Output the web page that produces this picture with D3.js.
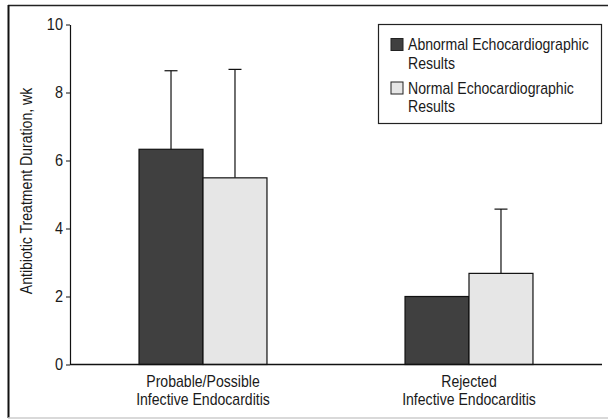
<!DOCTYPE html>
<html><head><meta charset="utf-8">
<script src="https://cdn.jsdelivr.net/npm/d3@7"></script>
<style>
body{margin:0;background:#fff;}
text{font-family:"Liberation Sans",Arial,sans-serif;fill:#1a1a1a;}
</style></head>
<body>
<svg id="c" width="608" height="419"></svg>
<script>
const categories = ["Probable/Possible\nInfective Endocarditis", "Rejected\nInfective Endocarditis"];
const seriesNames = ["Abnormal Echocardiographic\nResults", "Normal Echocardiographic\nResults"];
const abnormalMean = [6.33, 2.0];
const abnormalUpper = [8.64, null];
const normalMean = [5.49, 2.68];
const normalUpper = [8.68, 4.57];
const yTicks = [0, 2, 4, 6, 8, 10];
const yTitle = "Antibiotic Treatment Duration, wk";
const colors = ["#404040", "#e6e6e6"];

const SX = 0.88; // horizontal condensing to mimic a narrow Helvetica
const svg = d3.select("#c");
const M = {left: 70, right: 602, top: 24.5, bottom: 364.5};

// frame
svg.append("line").attr("x1",8).attr("x2",608).attr("y1",5.5).attr("y2",5.5).attr("stroke","#222").attr("stroke-width",1.5);
svg.append("line").attr("x1",8.5).attr("x2",8.5).attr("y1",5).attr("y2",418).attr("stroke","#111").attr("stroke-width",2);
svg.append("line").attr("x1",8).attr("x2",608).attr("y1",418).attr("y2",418).attr("stroke","#ccc").attr("stroke-width",1.5);

const y = d3.scaleLinear().domain([0,10]).range([M.bottom, M.top]);
const x0 = d3.scaleBand().domain(d3.range(categories.length)).range([M.left, M.right]).paddingInner(0.519).paddingOuter(0.2595);
const x1 = d3.scaleBand().domain([0,1]).range([0, x0.bandwidth()]);

const data = categories.map((c,i)=>[
  {s:0, v:abnormalMean[i], u:abnormalUpper[i]},
  {s:1, v:normalMean[i], u:normalUpper[i]}
]);

const g = svg.selectAll("g.grp").data(data).join("g").attr("class","grp")
  .attr("transform",(d,i)=>`translate(${x0(i)},0)`);

// error bars
g.selectAll("g.err").data(d=>d.filter(e=>e.u!=null)).join("g").attr("class","err").each(function(d){
  const cx = x1(d.s)+x1.bandwidth()/2;
  const s = d3.select(this);
  s.append("line").attr("x1",cx).attr("x2",cx).attr("y1",y(d.v)).attr("y2",y(d.u)).attr("stroke","#111").attr("stroke-width",1.2);
  s.append("line").attr("x1",cx-6.5).attr("x2",cx+6.5).attr("y1",y(d.u)).attr("y2",y(d.u)).attr("stroke","#111").attr("stroke-width",1.2);
});

g.selectAll("rect").data(d=>d).join("rect")
  .attr("x",d=>x1(d.s)).attr("width",x1.bandwidth())
  .attr("y",d=>y(d.v)).attr("height",d=>y(0)-y(d.v))
  .attr("fill",d=>colors[d.s]).attr("stroke","#111").attr("stroke-width",1.2);

// y axis
const ya = svg.append("g").attr("transform",`translate(${M.left},0)`)
  .call(d3.axisLeft(y).tickValues(yTicks).tickSize(4).tickPadding(3).tickSizeOuter(0));
ya.select(".domain").attr("stroke","#111").attr("stroke-width",1.2);
ya.selectAll(".tick line").attr("stroke","#111");
ya.selectAll(".tick text").each(function(){
  const t = d3.select(this);
  t.attr("x",null).attr("transform",`translate(-7,0) scale(${SX},1)`);
}).style("font-size","16.5px").style("font-family","'Liberation Sans',Arial,sans-serif").attr("fill","#1a1a1a");

// x axis baseline
svg.append("line").attr("x1",M.left).attr("x2",M.right).attr("y1",y(0)).attr("y2",y(0)).attr("stroke","#111").attr("stroke-width",1.5);

// x labels
categories.forEach((c,i)=>{
  const cx = x0(i)+x0.bandwidth()/2;
  const t = svg.append("text").attr("transform",`translate(${cx},387) scale(${SX},1)`).attr("text-anchor","middle").style("font-size","16px");
  c.split("\n").forEach((ln,k)=>t.append("tspan").attr("x",0).attr("dy",k?18:0).text(ln));
});

// y title
svg.append("text").attr("transform",`translate(32,191) rotate(-90) scale(${SX},1)`)
  .attr("text-anchor","middle").style("font-size","16px").text(yTitle);

// legend
const L = svg.append("g");
L.append("rect").attr("x",378.5).attr("y",24.5).attr("width",223).attr("height",99).attr("fill","#fff").attr("stroke","#222").attr("stroke-width",1.2);
seriesNames.forEach((n,i)=>{
  const yy = 38.5 + i*43.5;
  L.append("rect").attr("x",391).attr("y",yy).attr("width",12).attr("height",12).attr("fill",colors[i]).attr("stroke","#222").attr("stroke-width",1);
  const t = L.append("text").attr("transform",`translate(408,${yy+11.5}) scale(${SX},1)`).style("font-size","16px");
  n.split("\n").forEach((ln,k)=>t.append("tspan").attr("x",0).attr("dy",k?19:0).text(ln));
});
</script>
</body></html>
